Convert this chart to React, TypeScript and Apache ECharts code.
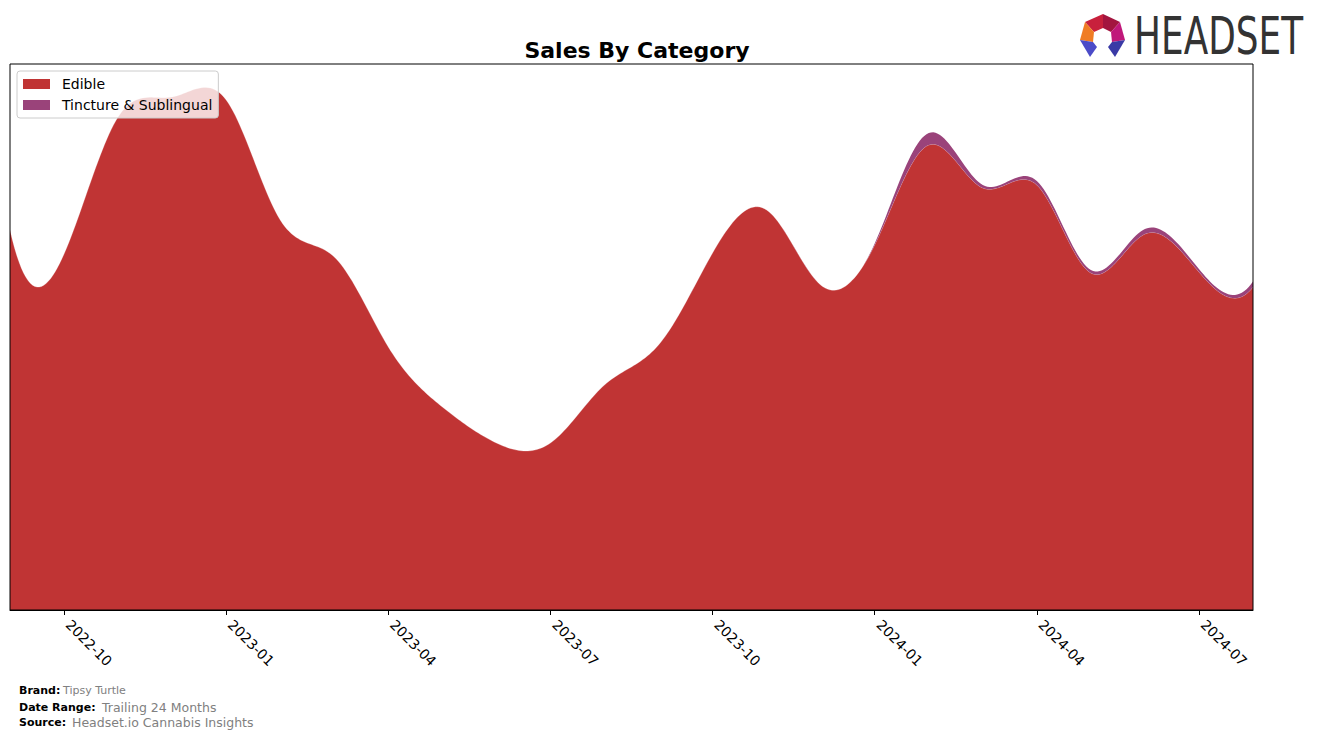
import React, { useEffect, useRef } from "react";
import * as echarts from "echarts";

const months = [
  "2022-09", "2022-10", "2022-11", "2022-12", "2023-01", "2023-02", "2023-03", "2023-04",
  "2023-05", "2023-06", "2023-07", "2023-08", "2023-09", "2023-10", "2023-11", "2023-12",
  "2024-01", "2024-02", "2024-03", "2024-04", "2024-05", "2024-06", "2024-07", "2024-08",
];
const edible = [
  38000, 35600, 49300, 51300, 51000, 39000, 35300, 26300,
  20300, 16700, 16700, 22500, 26500, 35700, 40000, 32500,
  36500, 46500, 42200, 42500, 33700, 37600, 33800, 32300,
];
const tincture = [
  0, 0, 0, 0, 0, 0, 0, 0,
  0, 0, 0, 0, 0, 0, 0, 0,
  150, 1200, 300, 400, 300, 500, 300, 550,
];
const seriesNames = ["Edible", "Tincture & Sublingual"];
const colors = ["#C03434", "#9A437A"];
const yMax = 54600;

const PLOT = { left: 10, top: 64, width: 1243, height: 546 };

// not-a-knot cubic spline through pixel points, sampled densely
function splinePoints(pts: number[][], per: number): number[][] {
  const n = pts.length;
  const x = pts.map((p) => p[0]);
  const y = pts.map((p) => p[1]);
  const h: number[] = [];
  for (let i = 0; i < n - 1; i++) h.push(x[i + 1] - x[i]);
  const A: number[][] = [];
  const b: number[] = [];
  for (let i = 0; i < n; i++) { A.push(new Array(n).fill(0)); b.push(0); }
  A[0][0] = h[1]; A[0][1] = -(h[0] + h[1]); A[0][2] = h[0];
  for (let i = 1; i < n - 1; i++) {
    A[i][i - 1] = h[i - 1];
    A[i][i] = 2 * (h[i - 1] + h[i]);
    A[i][i + 1] = h[i];
    b[i] = 6 * ((y[i + 1] - y[i]) / h[i] - (y[i] - y[i - 1]) / h[i - 1]);
  }
  A[n - 1][n - 3] = h[n - 2]; A[n - 1][n - 2] = -(h[n - 3] + h[n - 2]); A[n - 1][n - 1] = h[n - 3];
  for (let c = 0; c < n; c++) {
    let p = c;
    for (let r = c + 1; r < n; r++) if (Math.abs(A[r][c]) > Math.abs(A[p][c])) p = r;
    [A[c], A[p]] = [A[p], A[c]];
    [b[c], b[p]] = [b[p], b[c]];
    for (let r = c + 1; r < n; r++) {
      const f = A[r][c] / A[c][c];
      if (f === 0) continue;
      for (let k = c; k < n; k++) A[r][k] -= f * A[c][k];
      b[r] -= f * b[c];
    }
  }
  const M = new Array(n).fill(0);
  for (let r = n - 1; r >= 0; r--) {
    let s = b[r];
    for (let k = r + 1; k < n; k++) s -= A[r][k] * M[k];
    M[r] = s / A[r][r];
  }
  const out: number[][] = [];
  for (let i = 0; i < n - 1; i++) {
    const hi = h[i];
    for (let j = 0; j < per; j++) {
      const xx = x[i] + (hi * j) / per;
      const a = x[i + 1] - xx;
      const bb = xx - x[i];
      const yy =
        (M[i] * a * a * a) / (6 * hi) +
        (M[i + 1] * bb * bb * bb) / (6 * hi) +
        (y[i] / hi - (M[i] * hi) / 6) * a +
        (y[i + 1] / hi - (M[i + 1] * hi) / 6) * bb;
      out.push([xx, yy]);
    }
  }
  out.push([x[n - 1], y[n - 1]]);
  return out;
}

const totals = edible.map((v, i) => v + tincture[i]);

export default function App() {
  const ref = useRef<HTMLDivElement>(null);
  useEffect(() => {
    document.body.style.margin = "0";
    const chart = echarts.init(ref.current!, null, { renderer: "svg" });
    const font = "DejaVu Sans";
    const showIdx = (i: number) => i % 3 === 1;

    const makeRender = (layer: number) => (params: any, api: any) => {
      if (params.dataIndex !== 0) return null;
      const edPx = edible.map((v, i) => api.coord([i, v]));
      const edCurve = splinePoints(edPx, 24);
      if (layer === 0) {
        const base = api.coord([0, 0])[1];
        const poly = edCurve.concat([[edCurve[edCurve.length - 1][0], base], [edCurve[0][0], base]]);
        return {
          type: "group",
          children: [
            { type: "polygon", shape: { points: poly }, style: { fill: colors[0], stroke: "none" } },
            {
              type: "polyline",
              shape: { points: edCurve },
              style: { fill: "none", stroke: "rgba(255,255,255,0.35)", lineWidth: 0.7 },
            },
          ],
        };
      }
      const totPx = totals.map((v, i) => api.coord([i, v]));
      const totCurve = splinePoints(totPx, 24).map((p, k) => [p[0], Math.min(p[1], edCurve[k][1])]);
      const poly = totCurve.concat(edCurve.slice().reverse());
      return { type: "polygon", shape: { points: poly }, style: { fill: colors[1], stroke: "none" } };
    };

    chart.setOption({
      animation: false,
      backgroundColor: "#ffffff",
      textStyle: { fontFamily: font },
      title: {
        text: "Sales By Category",
        left: 632,
        top: 34,
        textAlign: "center",
        textStyle: { fontFamily: font, fontWeight: "bold", fontSize: 22, color: "#000" },
      },
      legend: {
        orient: "vertical",
        left: 17,
        top: 71,
        padding: [6, 6, 6, 6],
        itemGap: 7,
        itemWidth: 27,
        itemHeight: 10,
        icon: "rect",
        backgroundColor: "rgba(255,255,255,0.8)",
        borderColor: "#cccccc",
        borderWidth: 1,
        borderRadius: 3,
        data: seriesNames,
        textStyle: { fontFamily: font, fontSize: 14, color: "#000", padding: [0, 0, 0, 7] },
      },
      grid: { left: PLOT.left, top: PLOT.top, width: PLOT.width, height: PLOT.height, containLabel: false },
      xAxis: {
        type: "category",
        data: months,
        boundaryGap: false,
        axisLine: { show: true, lineStyle: { color: "#000", width: 1 } },
        axisTick: {
          show: true,
          interval: (i: number) => showIdx(i),
          length: 5,
          lineStyle: { color: "#000" },
        },
        axisLabel: {
          interval: (i: number) => showIdx(i),
          rotate: -45,
          fontFamily: font,
          fontSize: 14,
          color: "#000",
          margin: 8,
          padding: [0, 0, 0, 6],
        },
        splitLine: { show: false },
      },
      yAxis: {
        type: "value",
        min: 0,
        max: yMax,
        show: false,
        splitLine: { show: false },
      },
      series: [
        {
          name: seriesNames[0],
          type: "custom",
          data: edible.map((v, i) => [i, v]),
          encode: { x: 0, y: 1 },
          itemStyle: { color: colors[0] },
          renderItem: makeRender(0),
          z: 2,
        },
        {
          name: seriesNames[1],
          type: "custom",
          data: totals.map((v, i) => [i, v]),
          encode: { x: 0, y: 1 },
          itemStyle: { color: colors[1] },
          renderItem: makeRender(1),
          z: 2,
        },
      ],
      graphic: [
        {
          type: "rect",
          z: 100,
          silent: true,
          shape: { x: PLOT.left, y: PLOT.top, width: PLOT.width, height: PLOT.height },
          style: { fill: "none", stroke: "#000", lineWidth: 1 },
        },
        { type: "polygon", shape: { points: [[1085, 22], [1103, 14], [1103, 28], [1094, 32]] }, style: { fill: "#C8203C" } },
        { type: "polygon", shape: { points: [[1103, 14], [1120, 22], [1111, 32], [1103, 28]] }, style: { fill: "#A3153F" } },
        { type: "polygon", shape: { points: [[1085, 22], [1094, 32], [1093, 42], [1080, 40]] }, style: { fill: "#F07C24" } },
        { type: "polygon", shape: { points: [[1120, 22], [1125, 40], [1112, 42], [1111, 32]] }, style: { fill: "#C0187A" } },
        { type: "polygon", shape: { points: [[1080, 40], [1093, 42], [1097, 47], [1090, 57]] }, style: { fill: "#4B4BC8" } },
        { type: "polygon", shape: { points: [[1125, 40], [1112, 42], [1108, 47], [1115, 57]] }, style: { fill: "#3A3AA6" } },
        {
          type: "text",
          x: 1134,
          y: 37,
          scaleX: 0.69,
          style: {
            text: "HEADSET",
            fontFamily: font,
            fontSize: 52,
            fill: "#333333",
            verticalAlign: "middle",
          },
        },
        { type: "text", x: 19, y: 690, style: { text: "Brand:", fontFamily: font, fontWeight: "bold", fontSize: 11, fill: "#000", verticalAlign: "middle" } },
        { type: "text", x: 63, y: 690, style: { text: "Tipsy Turtle", fontFamily: font, fontSize: 11, fill: "#808080", verticalAlign: "middle" } },
        { type: "text", x: 19, y: 707, style: { text: "Date Range:", fontFamily: font, fontWeight: "bold", fontSize: 11, fill: "#000", verticalAlign: "middle" } },
        { type: "text", x: 102, y: 707, style: { text: "Trailing 24 Months", fontFamily: font, fontSize: 12.5, fill: "#808080", verticalAlign: "middle" } },
        { type: "text", x: 19, y: 722, style: { text: "Source:", fontFamily: font, fontWeight: "bold", fontSize: 11, fill: "#000", verticalAlign: "middle" } },
        { type: "text", x: 72, y: 722, style: { text: "Headset.io Cannabis Insights", fontFamily: font, fontSize: 12.5, fill: "#808080", verticalAlign: "middle" } },
      ],
    });
    return () => chart.dispose();
  }, []);
  return <div ref={ref} style={{ width: 1317, height: 738 }} />;
}
